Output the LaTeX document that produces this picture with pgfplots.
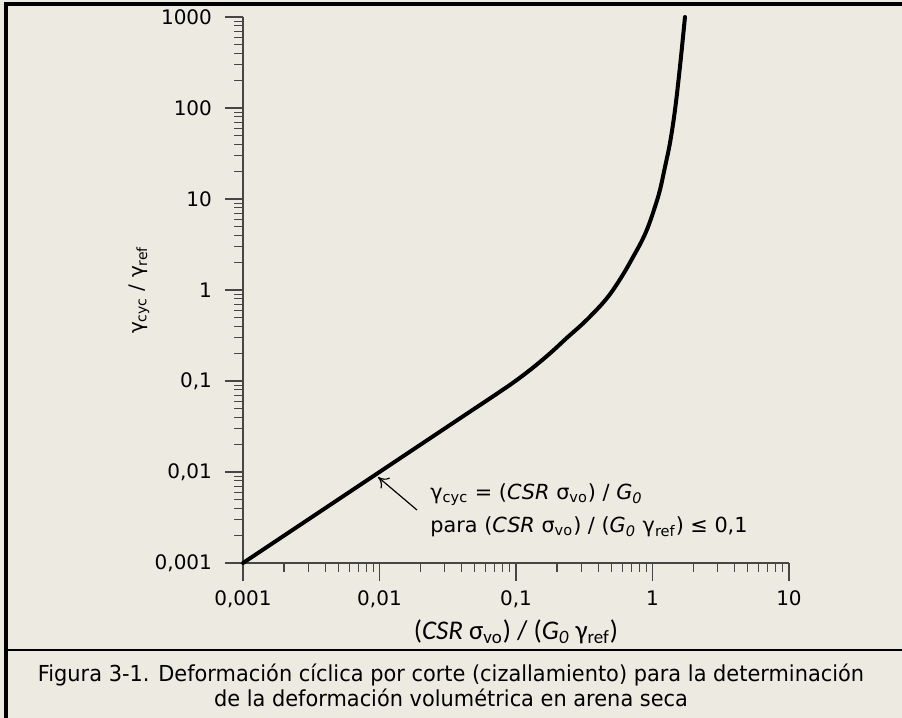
\documentclass[border=0pt]{standalone}
\usepackage{fontspec}
\setmainfont{DejaVu Sans}
\newfontfamily\capfont[FakeStretch=0.95]{DejaVu Sans}
\newfontfamily\labfont{Carlito}
\usepackage{pgfplots}
\pgfplotsset{compat=1.18}
\usetikzlibrary{arrows.meta}
\definecolor{bg}{RGB}{237,235,225}
\definecolor{tk}{RGB}{70,70,70}
\begin{document}
\begin{tikzpicture}
\fill[bg] (0pt,0pt) rectangle (451pt,-359pt);
\useasboundingbox (0pt,0pt) rectangle (451pt,-359pt);
\draw[line width=1.6pt] (3pt,-359pt) -- (3pt,-2pt) -- (451pt,-2pt);
\draw[line width=1pt] (3pt,-325pt) -- (451pt,-325pt);
\begin{axis}[
  at={(121.5pt,-281.5pt)}, anchor=south west,
  scale only axis, width=273pt, height=273pt,
  xmode=log, ymode=log,
  xmin=0.001, xmax=10, ymin=0.001, ymax=1000,
  axis x line*=bottom, axis y line*=left,
  xtick pos=bottom, ytick pos=left,
  xtick={0.001,0.01,0.1,1,10},
  xticklabels={{0,001},{0,01},{0,1},1,10},
  ytick={0.001,0.01,0.1,1,10,100,1000},
  yticklabels={{0,001},{0,01},{0,1},1,10,100,1000},
  tick align=outside,
  major tick length=9pt, minor tick length=4.5pt,
  tick style={tk, line width=0.6pt},
  axis line style={tk, line width=0.7pt},
  /pgf/number format/assume math mode=true,
  tick label style={font=\fontsize{10}{12}\selectfont, black},
  xticklabel style={yshift=-1.5pt},
  yticklabel style={xshift=-3pt},
  clip=false,
]
\addplot[black, line width=2pt, line cap=round, line join=round, smooth, tension=0.6] table {
x y
0.001 0.001
0.01 0.01
0.04 0.04
0.075 0.075
0.1 0.101
0.133 0.14
0.18 0.205
0.237 0.3
0.3 0.41
0.366 0.55
0.44 0.74
0.514 1.0
0.62 1.55
0.72 2.3
0.83 3.4
0.927 4.92
1.042 8.17
1.135 12.6
1.235 22.5
1.343 41.2
1.462 95
1.589 282
1.73 1000
};
\end{axis}
\draw[line width=0.6pt, -{To[length=5pt,width=7pt]}] (208.5pt,-255pt) -- (189pt,-238.5pt);
\node[anchor=west, inner sep=0pt, font=\fontsize{10.4}{12}\selectfont] at (215pt,-247.5pt)
  {γ\textsubscript{cyc} = (\textit{CSR} σ\textsubscript{vo}) / \textit{G\textsubscript{0}}};
\node[anchor=west, inner sep=0pt, font=\fontsize{10.4}{12}\selectfont] at (215pt,-263.5pt)
  {para (\textit{CSR} σ\textsubscript{vo}) / (\textit{G\textsubscript{0}} γ\textsubscript{ref}) ≤ 0,1};
\node[rotate=90, font=\fontsize{10}{12}\selectfont] at (69.5pt,-145pt)
  {γ\textsubscript{cyc} / γ\textsubscript{ref}};
\node[font=\labfont\fontsize{13.5}{15}\selectfont] at (258pt,-316pt)
  {(\textit{CSR} σ\textsubscript{vo}) / (\textit{G\textsubscript{0}} γ\textsubscript{ref})};
\node[font=\capfont\fontsize{11}{12.5}\selectfont, align=center] at (225.5pt,-342.75pt)
  {Figura 3-1. Deformación cíclica por corte (cizallamiento) para la determinación\\de la deformación volumétrica en arena seca};
\end{tikzpicture}
\end{document}
